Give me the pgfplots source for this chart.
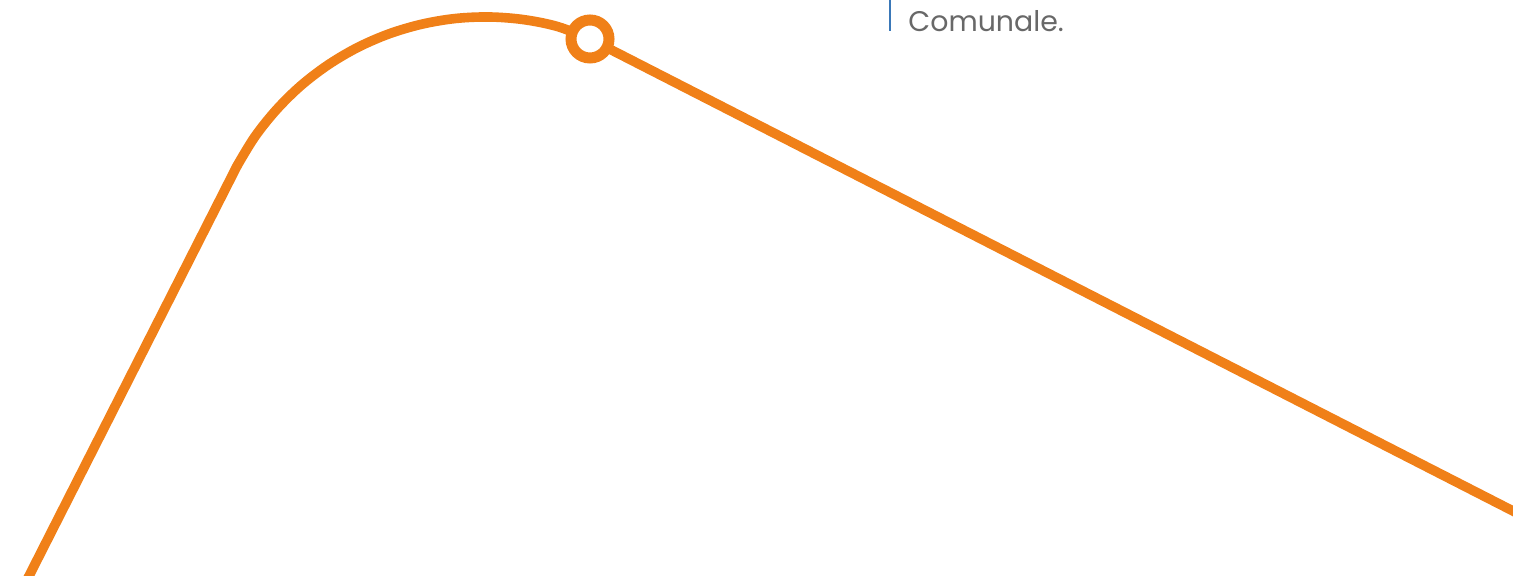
\documentclass[border=0pt]{standalone}
\usepackage{fontspec}
\setmainfont{Poppins}
\usepackage{pgfplots}
\pgfplotsset{compat=1.18}
\definecolor{lineorange}{HTML}{F08018}
\definecolor{bargblue}{HTML}{3A78B8}
\definecolor{txtgray}{HTML}{686868}
\begin{document}
\begin{tikzpicture}
\begin{axis}[
  scale only axis,
  width=756.5pt, height=288pt,
  xmin=0, xmax=1513, ymin=0, ymax=576,
  hide axis,
  clip=true,
]
\addplot[lineorange, line width=4.8pt, line cap=round, line join=round] coordinates {
  (18,-20) (29,0) (237,410)
};
\addplot[lineorange, line width=4.8pt, line cap=round, smooth, tension=0.55] coordinates {
  (237,410) (254.8,439.2) (276.2,466) (300.6,490.1) (327.9,511) (357.4,528.4) (388.9,542.1) (421.8,551.8) (455.6,557.5) (489.9,559) (524.1,556.3) (557.7,549.4) (590,537)
};
\addplot[lineorange, line width=4.8pt, line cap=round] coordinates {
  (590,537) (1513,65) (1530,56)
};
\addplot[only marks, mark=*, mark size=9.5pt, mark options={fill=white, draw=lineorange, line width=5.5pt}] coordinates {
  (590,537)
};
\draw[bargblue, line width=1pt] (axis cs:890,580) -- (axis cs:890,545);
\node[anchor=base west, text=txtgray, font=\fontsize{14.2}{17}\selectfont, inner sep=0pt] at (axis cs:908,544) {Comunale.};
\coordinate (sw) at (axis cs:0,0);
\coordinate (ne) at (axis cs:1513,576);
\end{axis}
\pgfresetboundingbox
\useasboundingbox (sw) rectangle (ne);
\end{tikzpicture}
\end{document}
